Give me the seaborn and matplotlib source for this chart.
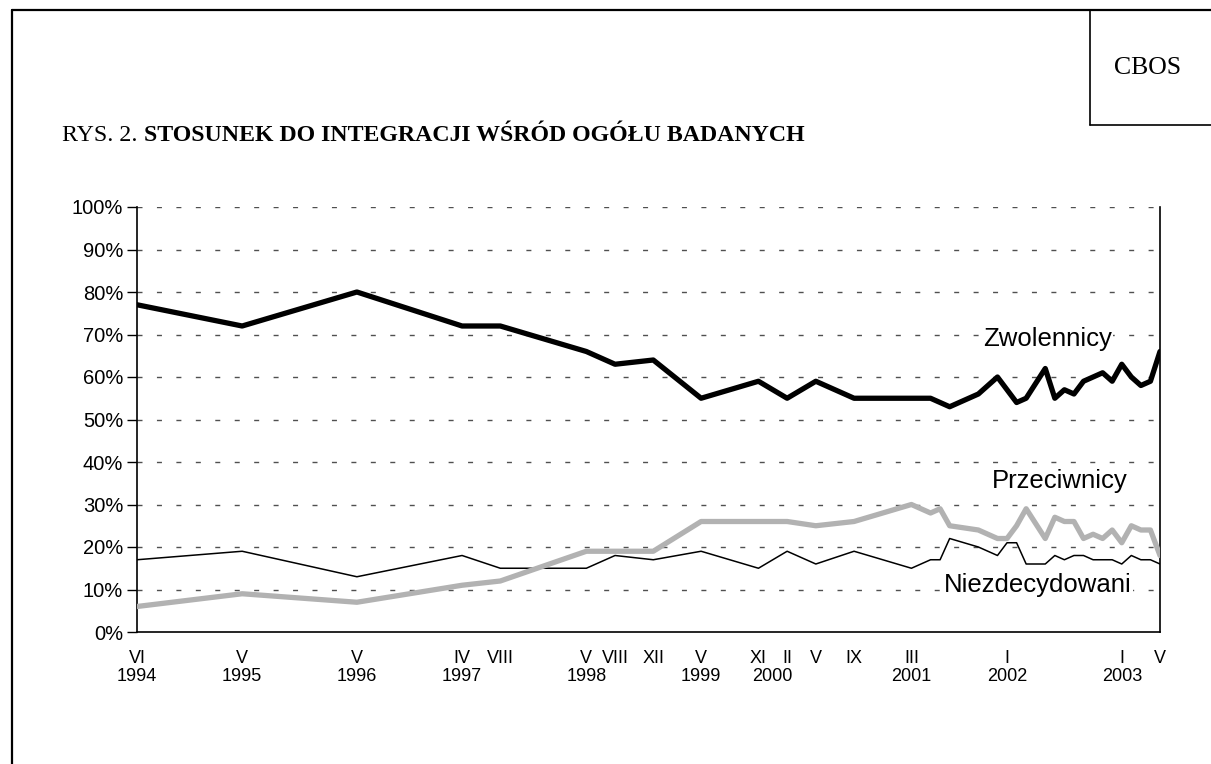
import matplotlib
matplotlib.use("Agg")
import matplotlib.pyplot as plt
import matplotlib.transforms as mtransforms
from matplotlib.lines import Line2D
import seaborn as sns
import pandas as pd

# ---- data (months since VI 1994) ----
months = [0, 11, 23, 34, 38, 47, 50, 54, 59, 65, 68, 71, 75, 81, 83, 84, 85, 88,
          90, 91, 92, 93, 95, 96, 97, 98, 99, 100, 101, 102, 103, 104, 105, 106, 107]
zwolennicy = [77, 72, 80, 72, 72, 66, 63, 64, 55, 59, 55, 59, 55, 55, 55, 54, 53, 56,
              60, 57, 54, 55, 62, 55, 57, 56, 59, 60, 61, 59, 63, 60, 58, 59, 66]
przeciwnicy = [6, 9, 7, 11, 12, 19, 19, 19, 26, 26, 26, 25, 26, 30, 28, 29, 25, 24,
               22, 22, 25, 29, 22, 27, 26, 26, 22, 23, 22, 24, 21, 25, 24, 24, 18]
niezdecydowani = [17, 19, 13, 18, 15, 15, 18, 17, 19, 15, 19, 16, 19, 15, 17, 17, 22, 20,
                  18, 21, 21, 16, 16, 18, 17, 18, 18, 17, 17, 17, 16, 18, 17, 17, 16]

tick_months = [0, 11, 23, 34, 38, 47, 50, 54, 59, 65, 68, 71, 75, 81, 91, 103, 107]
tick_labels = ["VI", "V", "V", "IV", "VIII", "V", "VIII", "XII", "V", "XI", "II", "V",
               "IX", "III", "I", "I", "V"]
year_pos = [0, 11, 23, 34, 47, 59, 66.5, 81, 91, 103]
year_labels = ["1994", "1995", "1996", "1997", "1998", "1999", "2000", "2001", "2002", "2003"]

series_names = ["Zwolennicy", "Przeciwnicy", "Niezdecydowani"]

df = pd.DataFrame({"month": months, "Zwolennicy": zwolennicy,
                   "Przeciwnicy": przeciwnicy, "Niezdecydowani": niezdecydowani})

sns.set_style("white")
plt.rcParams["font.family"] = ["Liberation Sans", "DejaVu Sans"]
plt.rcParams["text.color"] = "black"
plt.rcParams["xtick.color"] = "black"
plt.rcParams["ytick.color"] = "black"
plt.rcParams["axes.labelcolor"] = "black"

W, H = 1211, 764
fig = plt.figure(figsize=(W / 100, H / 100), dpi=100)
ax = fig.add_axes([137 / W, 1 - 632 / H, (1160 - 137) / W, (632 - 207) / H])

# gridlines
for v in range(10, 101, 10):
    ax.axhline(v, color="#505050", lw=1.0, linestyle=(0, (3.6, 10.4)), zorder=1)

sns.lineplot(data=df, x="month", y="Niezdecydowani", ax=ax, color="black", lw=1.1, zorder=3)
sns.lineplot(data=df, x="month", y="Przeciwnicy", ax=ax, color="#b2b2b2", lw=3.8, zorder=4)
sns.lineplot(data=df, x="month", y="Zwolennicy", ax=ax, color="black", lw=3.8, zorder=5)

ax.set_xlim(0, 107)
ax.set_ylim(0, 100)
ax.set_xlabel("")
ax.set_ylabel("")
ax.set_yticks(range(0, 101, 10))
ax.set_yticklabels([f"{v}%" for v in range(0, 101, 10)], fontsize=14.5)
ax.set_xticks(tick_months)
ax.set_xticklabels(tick_labels, fontsize=13)
ax.tick_params(axis="y", length=7, width=1, color="black", pad=3, left=True,
               labelcolor="black")
ax.tick_params(axis="x", length=0, pad=13, labelcolor="black")
for s in ["left", "bottom", "right"]:
    ax.spines[s].set_visible(True)
    ax.spines[s].set_color("black")
    ax.spines[s].set_linewidth(1.2)
ax.spines["top"].set_visible(False)

trans = mtransforms.blended_transform_factory(ax.transData, ax.transAxes)
for xp, yl in zip(year_pos, year_labels):
    ax.text(xp, -0.105, yl, transform=trans, ha="center", va="center", fontsize=13,
            color="black")

# series labels
lab_kw = dict(ha="center", va="center", fontsize=18.5, color="black",
              bbox=dict(facecolor="white", edgecolor="none", pad=1), zorder=6)
ax.text(95.2, 68.9, series_names[0], **lab_kw)
ax.text(96.5, 35.5, series_names[1], **lab_kw)
ax.text(94.2, 11.1, series_names[2], **lab_kw)

# outer frame and CBOS box
def fx(x):
    return x / W

def fy(y):
    return 1 - y / H

fig.add_artist(Line2D([fx(12), fx(W)], [fy(10), fy(10)], color="black", lw=1.6))
fig.add_artist(Line2D([fx(12), fx(12)], [fy(10), fy(H)], color="black", lw=1.6))
fig.add_artist(Line2D([fx(1090), fx(1090)], [fy(10), fy(125)], color="black", lw=1.2))
fig.add_artist(Line2D([fx(1090), fx(W)], [fy(125), fy(125)], color="black", lw=1.2))
fig.text(fx(1148), fy(68), "CBOS", ha="center", va="center", fontsize=18.5,
         family=["Liberation Serif", "DejaVu Serif"], color="black")

# title
t1 = fig.text(fx(62), fy(141), "RYS. 2. ", ha="left", va="baseline", fontsize=17.2,
              family=["Liberation Serif", "DejaVu Serif"], color="black")
ax.annotate("STOSUNEK DO INTEGRACJI WŚRÓD OGÓŁU BADANYCH", xy=(1, 0), xycoords=t1,
            ha="left", va="bottom", fontsize=17.2, fontweight="bold", color="black",
            family=["Liberation Serif", "DejaVu Serif"], annotation_clip=False)

fig.savefig("out.png", dpi=100, facecolor="white")
